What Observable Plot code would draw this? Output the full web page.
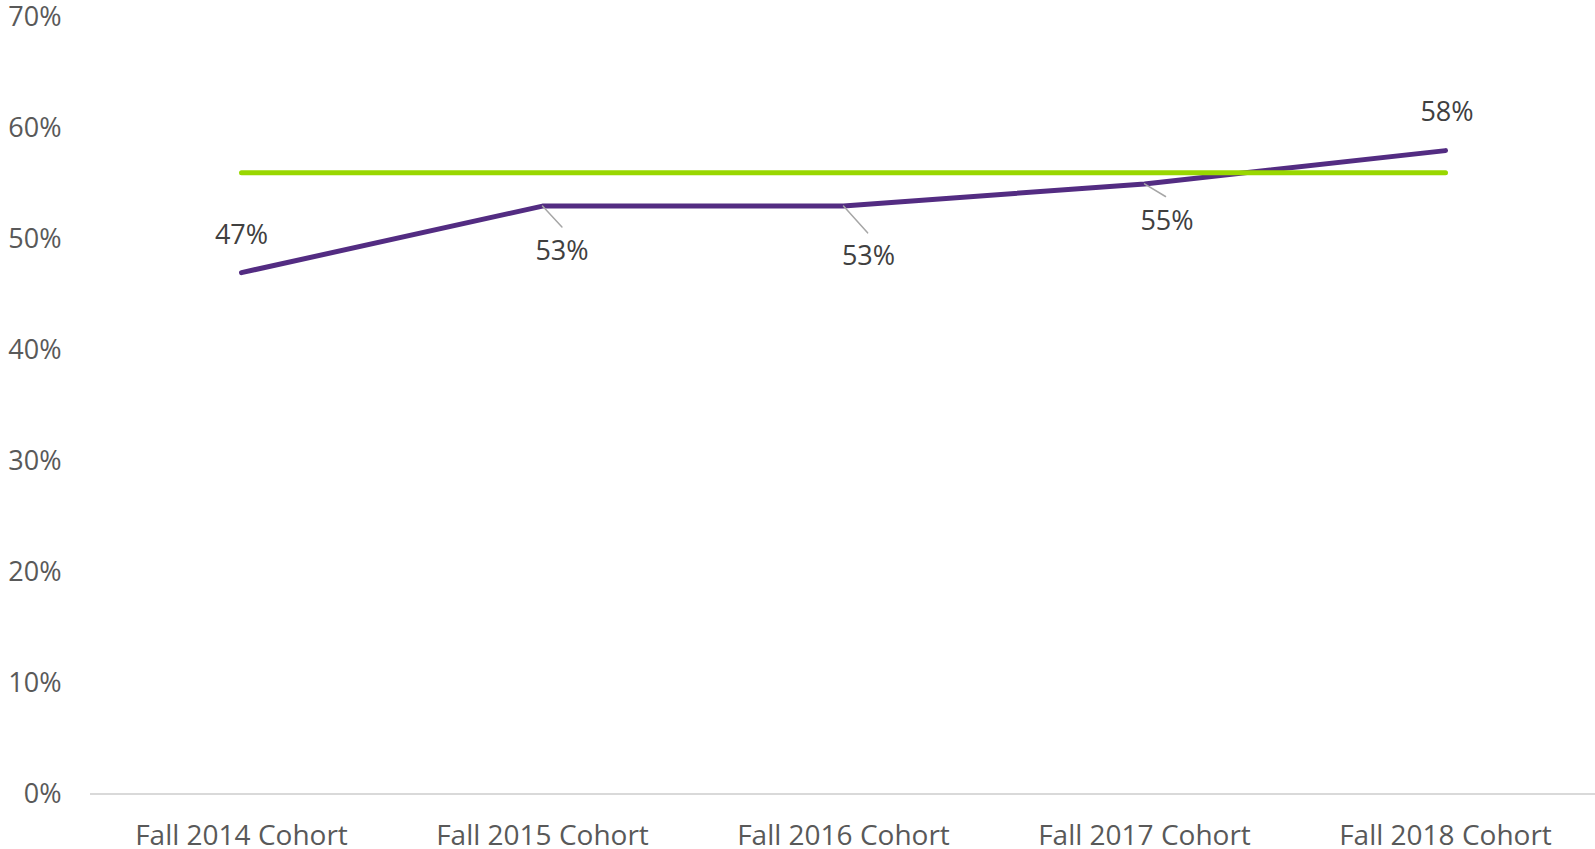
<!DOCTYPE html>
<html>
<head>
<meta charset="utf-8">
<script src="https://cdn.jsdelivr.net/npm/d3@7"></script>
<script src="https://cdn.jsdelivr.net/npm/@observablehq/plot@0.6"></script>
<style>
  html, body { margin: 0; padding: 0; background: #fff; overflow: hidden; }
  #chart svg { display: block; }
</style>
</head>
<body>
<div id="chart"></div>
<script>
// ---- data ----
const cohorts = ["Fall 2014 Cohort", "Fall 2015 Cohort", "Fall 2016 Cohort", "Fall 2017 Cohort", "Fall 2018 Cohort"];
const rates = [0.47, 0.53, 0.53, 0.55, 0.58];
const benchmark = [0.56, 0.56, 0.56, 0.56, 0.56];
const yTicks = [0, 0.1, 0.2, 0.3, 0.4, 0.5, 0.6, 0.7];

// ---- layout for data labels (pixel nudges and leader lines) ----
const labelLayout = [
  {dx: 0,    dy: -37, leader: null},
  {dx: 19.5, dy: 45,  leader: {length: 28.5, rotate: 137}},
  {dx: 25,   dy: 50,  leader: {length: 36,   rotate: 138}},
  {dx: 22.5, dy: 37.5, leader: {length: 24.5, rotate: 121}},
  {dx: 1.5,  dy: -38, leader: null}
];

const rows = cohorts.map((c, i) => ({cohort: c, rate: rates[i], bench: benchmark[i]}));
const fmt = d3.format(".0%");

const purple = "#532c82";
const green = "#99d700";

const labelMarks = [];
rows.forEach((r, i) => {
  const L = labelLayout[i];
  if (L.leader) {
    labelMarks.push(Plot.vector([r], {
      x: "cohort", y: "rate",
      length: L.leader.length, rotate: L.leader.rotate,
      anchor: "start", r: 0,
      stroke: "#a6a6a6", strokeWidth: 1.5
    }));
  }
  labelMarks.push(Plot.text([r], {
    x: "cohort", y: "rate", text: d => fmt(d.rate),
    dx: L.dx, dy: L.dy,
    fontSize: 27, fill: "#404040"
  }));
});

const chart = Plot.plot({
  width: 1595,
  height: 849,
  marginTop: 17,
  marginBottom: 55.5,
  marginLeft: 90,
  marginRight: 0,
  style: {fontFamily: "'Open Sans', sans-serif", background: "#fff"},
  x: {type: "point", domain: cohorts, padding: 0.5, label: null},
  y: {domain: [0, 0.7], label: null},
  marks: [
    Plot.axisY({ticks: yTicks, tickFormat: fmt, tickSize: 0, tickPadding: 29,
      fontSize: 27, fill: "#595959", label: null}),
    Plot.axisX({tickSize: 0, tickPadding: 31, fontSize: 28, fill: "#595959",
      label: null, style: {letterSpacing: "0.6px"}}),
    Plot.ruleY([0], {stroke: "#d9d9d9", strokeWidth: 2}),
    Plot.line(rows, {x: "cohort", y: "rate", stroke: purple, strokeWidth: 5,
      strokeLinecap: "round", strokeLinejoin: "round"}),
    Plot.line(rows, {x: "cohort", y: "bench", stroke: green, strokeWidth: 5,
      strokeLinecap: "round", strokeLinejoin: "round"}),
    ...labelMarks
  ]
});
document.getElementById("chart").appendChild(chart);
</script>
</body>
</html>
